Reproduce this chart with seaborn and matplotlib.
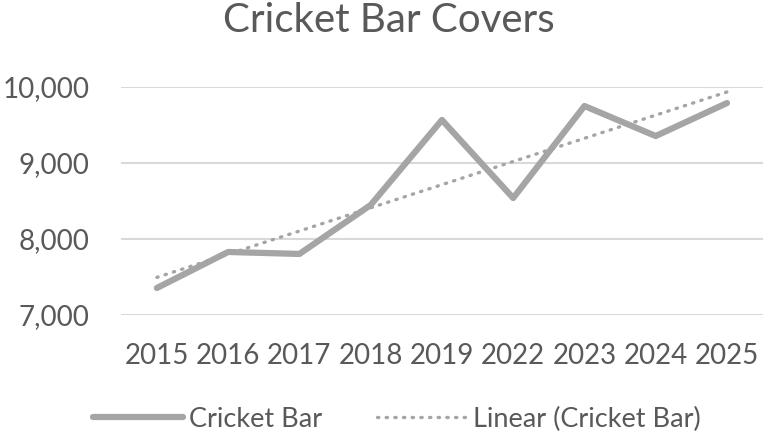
import numpy as np
import pandas as pd
import matplotlib
matplotlib.use("Agg")
import matplotlib.pyplot as plt
import seaborn as sns

years = ["2015", "2016", "2017", "2018", "2019", "2022", "2023", "2024", "2025"]
covers = [7355, 7829, 7803, 8447, 9566, 8539, 9750, 9355, 9789]

df = pd.DataFrame({"year": years, "covers": covers})

# excel style linear trendline over category index
idx = np.arange(len(years))
slope, intercept = np.polyfit(idx, covers, 1)
df["trend"] = slope * idx + intercept

sns.set_theme(style="white")
plt.rcParams["font.family"] = ["Lato", "DejaVu Sans"]

grey = "#A5A5A5"
text_col = "#595959"

fig = plt.figure(figsize=(7.77, 4.43), dpi=100)
ax = fig.add_axes([0.156, 0.289, 0.8255, 0.5146])

sns.lineplot(data=df, x="year", y="covers", ax=ax, color=grey, linewidth=4.5,
             solid_capstyle="round", label="Cricket Bar", sort=False)
sns.lineplot(data=df, x="year", y="trend", ax=ax, color=grey, linewidth=2.4,
             linestyle=(0, (0.4, 2.2)), dash_capstyle="round",
             label="Linear (Cricket Bar)", sort=False)

ax.set_xlim(-0.5, len(years) - 0.5)
ax.set_ylim(7000, 10000)
ax.set_yticks([7000, 8000, 9000, 10000])
ax.yaxis.set_major_formatter(matplotlib.ticker.FuncFormatter(lambda v, p: f"{int(v):,}"))
ax.grid(axis="y", color="#D9D9D9", linewidth=1.5)
ax.set_axisbelow(True)
for s in ax.spines.values():
    s.set_visible(False)
ax.set_xlabel("")
ax.set_ylabel("")
ax.tick_params(axis="both", colors=text_col, labelsize=20, length=0)
ax.tick_params(axis="x", pad=20)
ax.tick_params(axis="y", pad=23)

fig.suptitle("Cricket Bar Covers", x=0.5, y=0.995, fontsize=29, color=text_col, va="top")

ax.legend(loc="upper center", bbox_to_anchor=(0.43, -0.295), ncol=2, frameon=False,
          fontsize=19.5, labelcolor=text_col, handlelength=3.3, columnspacing=2.0,
          handletextpad=0.25)

fig.savefig("out.png", dpi=100)
